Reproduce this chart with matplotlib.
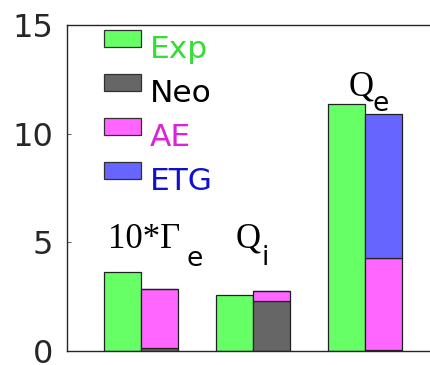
import numpy as np
import matplotlib.pyplot as plt
from matplotlib.patches import Rectangle

# data
groups = [1, 2, 3]
exp_vals = [3.62, 2.56, 11.38]
neo_vals = [0.12, 2.30, 0.05]
ae_vals = [2.72, 0.45, 4.22]
etg_vals = [0.0, 0.0, 6.63]
yticks = [0, 5, 10, 15]

# group labels: main part (serif) + subscript (sans)
main_labels = ['10*\u0393', 'Q', 'Q']
sub_labels = ['e', 'i', 'e']
main_pos = [(0.70, 4.74), (1.84, 4.74), (2.85, 11.78)]
sub_pos = [(1.40, 3.91), (2.075, 3.96), (3.065, 11.04)]

series_names = ['Exp', 'Neo', 'AE', 'ETG']
bar_colors = ['#66ff66', '#666666', '#ff66ff', '#6666ff']
text_colors = ['#33dd33', '#000000', '#dd22dd', '#1111cc']

fig = plt.figure(figsize=(4.31, 3.65), dpi=100)
ax = fig.add_axes([0.1555, 0.0384, 0.8645, 0.893])

x = np.array(groups, dtype=float)
w = 0.33
ax.bar(x - w / 2, exp_vals, w, color=bar_colors[0], edgecolor='#202020', linewidth=0.9)
bottom = np.zeros(3)
for vals, col in zip([neo_vals, ae_vals, etg_vals], bar_colors[1:]):
    ax.bar(x + w / 2, vals, w, bottom=bottom, color=col, edgecolor='#202020', linewidth=0.9)
    bottom += np.array(vals)

for m, s, mp, sp in zip(main_labels, sub_labels, main_pos, sub_pos):
    ax.text(mp[0], mp[1], m, fontsize=25, family='Liberation Serif',
            ha='left', va='baseline', color='black')
    ax.text(sp[0], sp[1], s, fontsize=19, family='DejaVu Sans',
            ha='left', va='baseline', color='black')

# legend drawn by hand
row_y = [0.960, 0.825, 0.690, 0.555]
for name, bc, tc, ry in zip(series_names, bar_colors, text_colors, row_y):
    ax.add_patch(Rectangle((0.0993, ry - 0.026), 0.0993, 0.052, transform=ax.transAxes,
                           facecolor=bc, edgecolor='#303030', linewidth=0.9, clip_on=False))
    ax.text(0.2228, ry - 0.061, name, transform=ax.transAxes, fontsize=22.5,
            color=tc, ha='left', va='baseline')

ax.set_xlim(0.337, 3.663)
ax.set_ylim(0, 15)
ax.set_yticks(yticks)
ax.set_xticks([])
ax.tick_params(axis='y', direction='in', length=3, width=0.6, pad=10,
               labelsize=23, labelcolor='#262626', color='#404040')
for s in ['left', 'top', 'bottom', 'right']:
    ax.spines[s].set_linewidth(1.0)
    ax.spines[s].set_color('#262626')

fig.savefig('out.png', dpi=100)
